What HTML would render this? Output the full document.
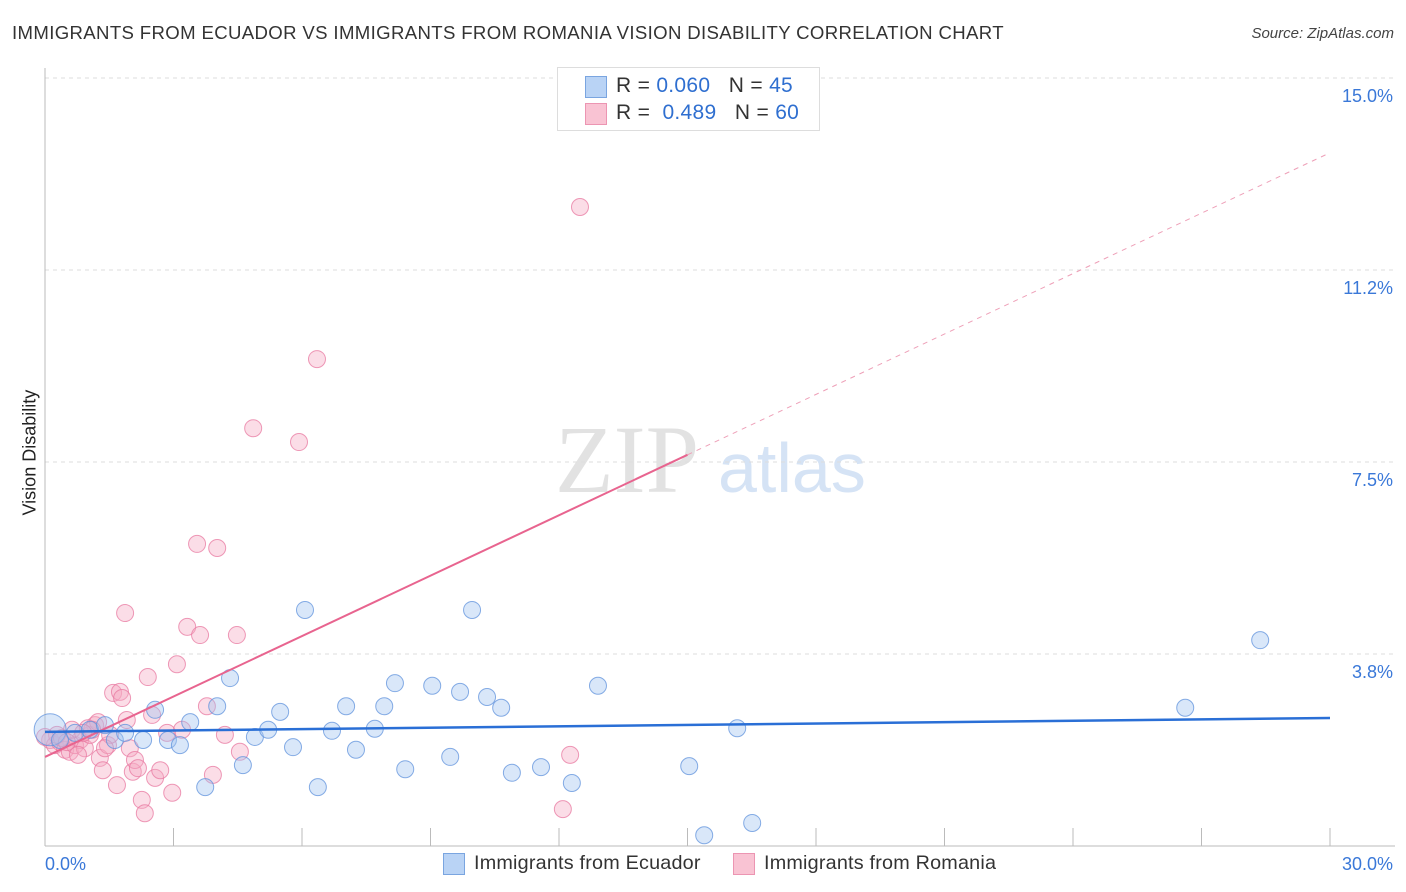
<!DOCTYPE html>
<html><head><meta charset="utf-8">
<style>
body{margin:0;background:#fff;font-family:"Liberation Sans",sans-serif;}
#wrap{position:relative;width:1406px;height:892px;overflow:hidden;}
.t{position:absolute;white-space:nowrap;}
</style></head>
<body>
<div id="wrap">
<div class="t" style="left:12px;top:22px;font-size:18.6px;letter-spacing:0.35px;color:#333;">IMMIGRANTS FROM ECUADOR VS IMMIGRANTS FROM ROMANIA VISION DISABILITY CORRELATION CHART</div>
<div class="t" style="right:12px;top:25px;font-size:15px;color:#444;font-style:italic;">Source: ZipAtlas.com</div>
<div class="t" style="left:-30px;top:445px;font-size:18px;color:#222;transform:rotate(-90deg);width:120px;text-align:center;">Vision Disability</div>
<svg id="svg" width="1406" height="892" style="position:absolute;left:0;top:0">
<text x="555" y="492" font-size="96" fill="#e2e2e2" font-family="Liberation Serif">ZIP</text>
<text x="718" y="492" font-size="70" fill="#d5e3f5">atlas</text>
</svg>
<div style="position:absolute;left:557px;top:67px;width:261px;height:62px;border:1px solid #ddd;background:#fff;font-size:21px;letter-spacing:0.3px;color:#333;">
 <div style="position:absolute;left:27px;top:8px;width:20px;height:20px;background:#b9d3f5;border:1px solid #7aa5e0;"></div>
 <div class="t" style="left:58px;top:6px;">R = <span style="color:#2f6fd0">0.060</span>&nbsp;&nbsp;&nbsp;N = <span style="color:#2f6fd0">45</span></div>
 <div style="position:absolute;left:27px;top:35px;width:20px;height:20px;background:#f9c3d3;border:1px solid #ec95b2;"></div>
 <div class="t" style="left:58px;top:33px;">R = &nbsp;<span style="color:#2f6fd0">0.489</span>&nbsp;&nbsp;&nbsp;N = <span style="color:#2f6fd0">60</span></div>
</div>
<div style="position:absolute;left:443px;top:853px;width:20px;height:20px;background:#b9d3f5;border:1px solid #7aa5e0;"></div>
<div class="t" style="left:474px;top:852px;font-size:19.8px;letter-spacing:0.2px;color:#333;">Immigrants from Ecuador</div>
<div style="position:absolute;left:733px;top:853px;width:20px;height:20px;background:#f9c3d3;border:1px solid #ec95b2;"></div>
<div class="t" style="left:764px;top:852px;font-size:19.8px;letter-spacing:0.2px;color:#333;">Immigrants from Romania</div>
</div>
<script>
const yTicks=[3.75,7.5,11.25,15];
const yTickLabels=["3.8%","7.5%","11.2%","15.0%"];
const xTickLabels=["0.0%","30.0%"];
const ecuadorX=[0.12,0.35,0.70,1.05,1.40,1.63,1.87,2.29,2.57,2.87,3.15,3.39,3.74,4.02,4.32,4.62,4.90,5.21,5.49,5.79,6.07,6.37,6.70,7.03,7.26,7.70,7.92,8.17,8.41,9.04,9.46,9.69,9.97,10.32,10.65,10.90,11.58,12.30,12.91,15.04,15.39,16.16,16.51,26.62,28.37];
const ecuadorY=[2.27,2.07,2.21,2.27,2.36,2.07,2.21,2.07,2.66,2.07,1.97,2.42,1.15,2.73,3.28,1.58,2.13,2.27,2.62,1.93,4.61,1.15,2.25,2.73,1.88,2.29,2.73,3.18,1.50,3.13,1.74,3.01,4.61,2.91,2.70,1.43,1.54,1.23,3.13,1.56,0.21,2.30,0.45,2.70,4.02];
const romaniaX=[0.12,0.23,0.35,0.47,0.58,0.70,0.82,0.93,1.05,1.17,1.28,1.35,1.47,1.59,1.68,1.75,1.80,1.87,1.91,1.98,2.05,2.10,2.17,2.26,2.33,2.40,2.50,2.57,2.69,2.85,2.97,3.08,3.20,3.32,3.55,3.62,3.78,3.92,4.02,4.20,4.48,4.55,4.86,5.93,6.35,12.09,12.26,12.49,0.40,0.63,1.00,1.24,1.52,0.28,0.51,0.77,1.10,1.40,0.89,0.0];
const romaniaY=[2.07,1.97,2.03,1.88,1.84,1.97,2.07,1.91,2.17,2.36,1.72,1.48,1.97,2.99,1.19,3.01,2.89,4.55,2.46,1.91,1.45,1.68,1.52,0.90,0.64,3.30,2.56,1.33,1.48,2.21,1.04,3.55,2.27,4.28,5.90,4.12,2.73,1.39,5.82,2.17,4.12,1.84,8.16,7.89,9.51,0.72,1.78,12.48,2.11,2.27,2.30,2.42,2.17,2.17,2.03,1.78,2.27,1.91,2.21,2.13];
const ecuadorTrend=[2.23,2.50];
const romaniaTrend=[1.74,13.54];
const X0=45,X1=1330,Y0=846,PXY=51.2;
const sx=v=>X0+(X1-X0)*v/30;
const sy=v=>Y0-v*PXY;
const svg=document.getElementById('svg');
const NS='http://www.w3.org/2000/svg';
function mk(tag,at){const e=document.createElementNS(NS,tag);for(const k in at)e.setAttribute(k,at[k]);svg.appendChild(e);return e;}
yTicks.forEach((t,i)=>{
 const g=mk('line',{x1:X0,x2:1395,y1:sy(t),y2:sy(t),stroke:'#ddd','stroke-dasharray':'4,4'});
 
 
 const tx=mk('text',{x:1393,y:sy(t)+24,'text-anchor':'end','font-size':18,fill:'#3a78d8'});
 tx.textContent=yTickLabels[i];
 
 
});
const ax=mk('line',{x1:X0,x2:X0,y1:68,y2:Y0,stroke:'#bbb'});


const bx=mk('line',{x1:X0,x2:1395,y1:Y0,y2:Y0,stroke:'#bbb'});


for(let i=1;i<=10;i++){
 const tk=mk('line',{x1:sx(i*3),x2:sx(i*3),y1:828,y2:Y0,stroke:'#bbb'});
 
 
}
const xl0=mk('text',{x:45,y:870,'font-size':18,fill:'#3a78d8'});xl0.textContent=xTickLabels[0];


const xl1=mk('text',{x:1393,y:870,'text-anchor':'end','font-size':18,fill:'#3a78d8'});xl1.textContent=xTickLabels[1];


romaniaX.forEach((v,i)=>{
 const c=mk('circle',{cx:sx(v),cy:sy(romaniaY[i]),r:8.5,fill:'rgba(245,170,195,0.4)',stroke:'rgba(232,120,160,0.75)','stroke-width':1});
 
 
});
ecuadorX.forEach((v,i)=>{
 const c=mk('circle',{cx:sx(v),cy:sy(ecuadorY[i]),r:i===0?16:8.5,fill:'rgba(160,195,240,0.4)',stroke:'rgba(95,145,220,0.75)','stroke-width':1});
 
 
});
const rm=(romaniaTrend[1]-romaniaTrend[0])/30;
const l1=mk('line',{x1:sx(0),y1:sy(romaniaTrend[0]),x2:sx(15),y2:sy(romaniaTrend[0]+rm*15),stroke:'#e8648f','stroke-width':2});


const l2=mk('line',{x1:sx(15),y1:sy(romaniaTrend[0]+rm*15),x2:sx(30),y2:sy(romaniaTrend[1]),stroke:'#eea0b8','stroke-width':1,'stroke-dasharray':'5,5'});


const l3=mk('line',{x1:sx(0),y1:sy(ecuadorTrend[0]),x2:sx(30),y2:sy(ecuadorTrend[1]),stroke:'#2a6fd6','stroke-width':2.5});


</script>
</body></html>
